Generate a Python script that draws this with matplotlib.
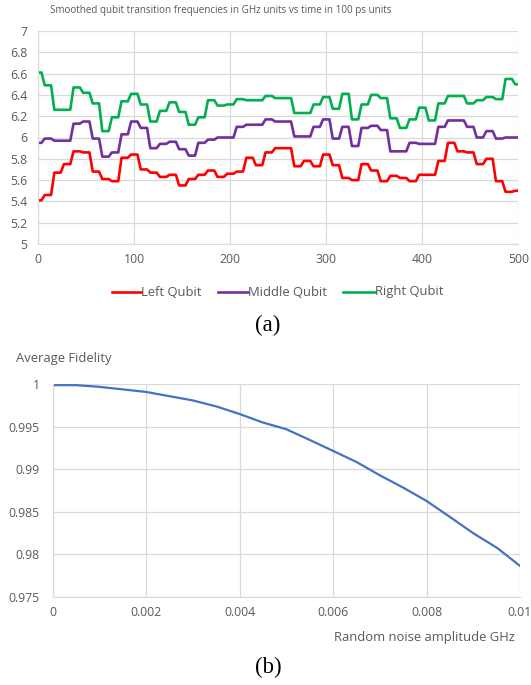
import matplotlib
matplotlib.use("Agg")
import matplotlib.pyplot as plt
from matplotlib.lines import Line2D
import numpy as np

plt.rcParams['font.family'] = ['Open Sans', 'DejaVu Sans']

# ---------- data (a) ----------
time_units = list(range(0, 501, 10))
left_qubit = [5.41, 5.46, 5.67, 5.75, 5.87, 5.86, 5.68, 5.61, 5.59, 5.81,
              5.84, 5.70, 5.67, 5.63, 5.65, 5.55, 5.61, 5.65, 5.69, 5.63,
              5.66, 5.68, 5.81, 5.74, 5.86, 5.90, 5.90, 5.73, 5.78, 5.73,
              5.84, 5.74, 5.62, 5.60, 5.75, 5.69, 5.59, 5.64, 5.62, 5.59,
              5.65, 5.65, 5.78, 5.95, 5.87, 5.86, 5.75, 5.80, 5.59, 5.49, 5.50]
middle_qubit = [5.95, 5.99, 5.97, 5.97, 6.13, 6.15, 5.99, 5.82, 5.86, 6.03,
                6.15, 6.09, 5.90, 5.94, 5.96, 5.89, 5.83, 5.95, 5.98, 6.00,
                6.00, 6.10, 6.12, 6.12, 6.17, 6.15, 6.15, 6.01, 6.01, 6.10,
                6.17, 5.99, 6.10, 5.92, 6.09, 6.11, 6.07, 5.87, 5.87, 5.95,
                5.94, 5.94, 6.10, 6.16, 6.16, 6.10, 6.00, 6.06, 5.99, 6.00, 6.00]
right_qubit = [6.61, 6.49, 6.26, 6.26, 6.47, 6.42, 6.32, 6.06, 6.19, 6.34,
               6.41, 6.31, 6.15, 6.25, 6.33, 6.24, 6.12, 6.19, 6.35, 6.30,
               6.31, 6.36, 6.35, 6.35, 6.39, 6.37, 6.37, 6.23, 6.23, 6.31,
               6.38, 6.27, 6.41, 6.17, 6.31, 6.40, 6.37, 6.18, 6.09, 6.17,
               6.28, 6.16, 6.32, 6.39, 6.39, 6.32, 6.35, 6.38, 6.36, 6.55, 6.50]
series_names = ["Left Qubit", "Middle Qubit", "Right Qubit"]
series_colors = ["#FF0000", "#7030A0", "#00B050"]

# ---------- data (b) ----------
noise_amp = [0.0, 0.0005, 0.001, 0.0015, 0.002, 0.0025, 0.003, 0.0035, 0.004,
             0.0045, 0.005, 0.0055, 0.006, 0.0065, 0.007, 0.0075, 0.008,
             0.0085, 0.009, 0.0095, 0.01]
avg_fidelity = [0.9999, 0.9999, 0.9997, 0.9994, 0.9991, 0.9986, 0.9981,
                0.9974, 0.9965, 0.9955, 0.99471, 0.99345, 0.99216, 0.99086,
                0.98929, 0.98784, 0.98627, 0.98439, 0.98247, 0.98078, 0.97863]

TXT = "#595959"
GRID = "#D9D9D9"
TICK_FS = 8.8
LBL_FS = 9.4
CAP_FS = 16.5

W, H = 531, 685
fig = plt.figure(figsize=(W / 100, H / 100), dpi=100)


def plateau_path(x, y, half=3.3):
    """Render held (step) values as plateaus with short ramps between them."""
    x = np.asarray(x, float)
    y = np.asarray(y, float)
    xs = np.column_stack([x - half, x + half]).ravel()
    ys = np.repeat(y, 2)
    return np.clip(xs, x[0], x[-1]), ys


def style_axes(ax, xpad, ypad):
    ax.grid(True, color=GRID, lw=0.9)
    ax.set_axisbelow(True)
    for s in ax.spines.values():
        s.set_visible(False)
    for side in ('bottom', 'left'):
        ax.spines[side].set_visible(True)
        ax.spines[side].set_color(GRID)
    ax.tick_params(length=0, labelsize=TICK_FS, colors=TXT)
    ax.tick_params(axis='x', pad=xpad)
    ax.tick_params(axis='y', pad=ypad)


# ---------- top chart ----------
ax1 = fig.add_axes([38.3 / W, 1 - 244 / H, 480 / W, 213 / H])
for vals, name, col in zip([left_qubit, middle_qubit, right_qubit], series_names, series_colors):
    px, py = plateau_path(time_units, vals)
    ax1.plot(px, py, color=col, lw=1.9, label=name,
             solid_joinstyle='round', solid_capstyle='round')
ax1.set_xlim(0, 500)
ax1.set_ylim(5, 7)
ax1.set_xticks(range(0, 501, 100))
ax1.set_yticks(np.arange(5, 7.01, 0.2))
ax1.set_yticklabels(["5", "5.2", "5.4", "5.6", "5.8", "6", "6.2", "6.4", "6.6", "6.8", "7"])
style_axes(ax1, xpad=6.5, ypad=8)
fig.text(50 / W, 1 - 11 / H, "Smoothed qubit transition frequencies in GHz units vs time in 100 ps units",
         fontsize=7.1, color=TXT, ha='left', va='center')

# manual legend (handle line + label), placed below the top chart
leg_y = 1 - 292 / H
leg_handles_x = [(112, 141), (218, 248), (343, 375)]
for (x0, x1), name, col in zip(leg_handles_x, series_names, series_colors):
    fig.add_artist(Line2D([x0 / W, x1 / W], [leg_y, leg_y], color=col, lw=1.9,
                          transform=fig.transFigure))
    fig.text(x1 / W, leg_y, name, fontsize=LBL_FS, color=TXT, ha='left', va='center')

fig.text(268 / W, 1 - 325 / H, "(a)", family='Liberation Serif', fontsize=CAP_FS, color='black',
         ha='center', va='center')

# ---------- bottom chart ----------
ax2 = fig.add_axes([52.7 / W, 1 - 596.7 / H, 467.3 / W, 212.4 / H])
ax2.plot(noise_amp, avg_fidelity, color="#4472C4", lw=1.6)
ax2.set_xlim(0, 0.01)
ax2.set_ylim(0.975, 1.0)
ax2.set_xticks([0, 0.002, 0.004, 0.006, 0.008, 0.01])
ax2.set_xticklabels(["0", "0.002", "0.004", "0.006", "0.008", "0.01"])
ax2.set_yticks([0.975, 0.98, 0.985, 0.99, 0.995, 1.0])
ax2.set_yticklabels(["0.975", "0.98", "0.985", "0.99", "0.995", "1"])
style_axes(ax2, xpad=6.5, ypad=9.5)
fig.text(16 / W, 1 - 358 / H, "Average Fidelity", fontsize=LBL_FS, color=TXT, ha='left', va='center')
fig.text(515 / W, 1 - 638 / H, "Random noise amplitude GHz", fontsize=LBL_FS, color=TXT,
         ha='right', va='center')
fig.text(268 / W, 1 - 667 / H, "(b)", family='Liberation Serif', fontsize=CAP_FS, color='black',
         ha='center', va='center')

fig.savefig("out.png", dpi=100)
